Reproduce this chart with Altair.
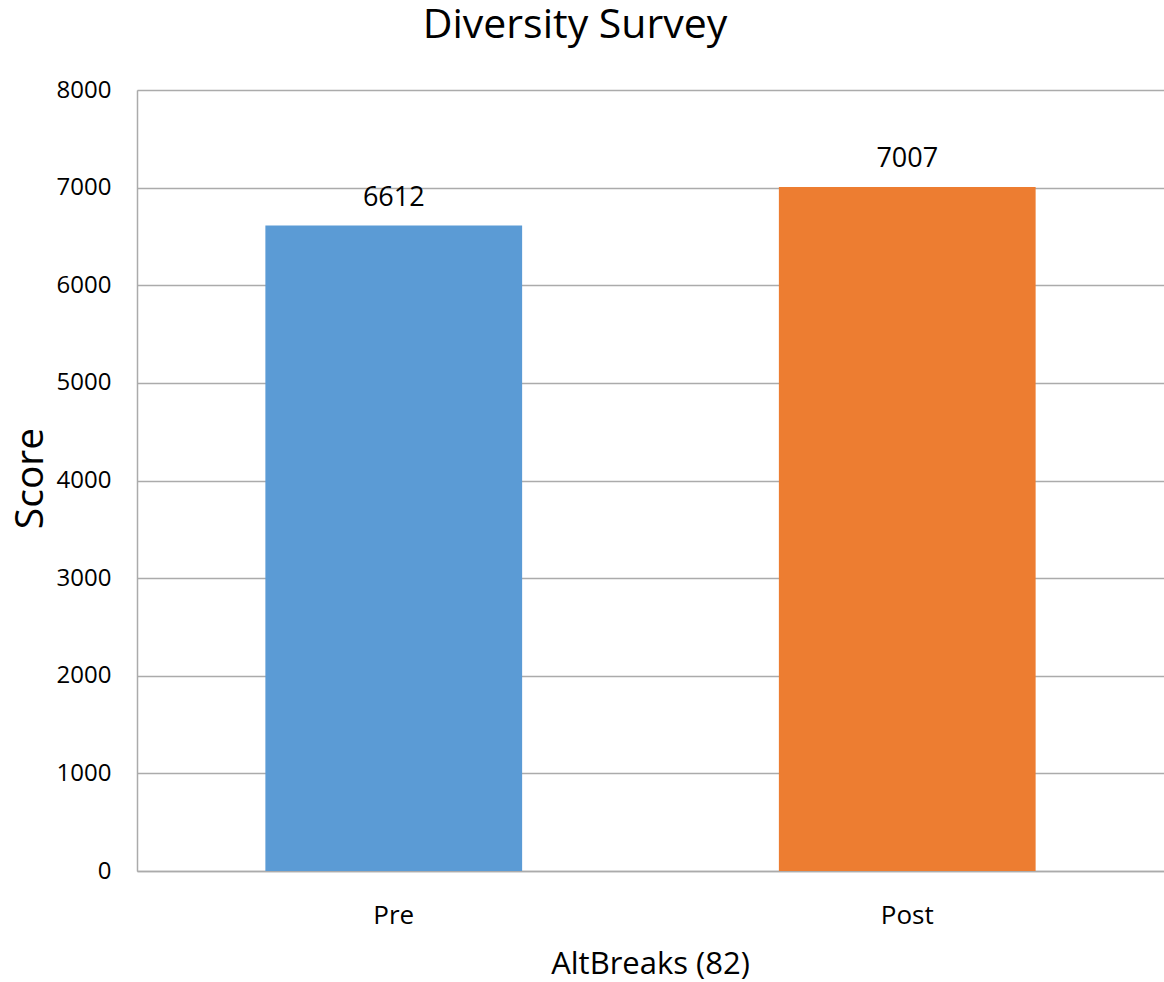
import altair as alt
import pandas as pd

categories = ["Pre", "Post"]
scores = [6612, 7007]
colors = ["#5B9BD5", "#ED7D31"]
chart_title = "Diversity Survey"

df = pd.DataFrame({"group": categories, "score": scores, "color": colors})
title_df = pd.DataFrame({"t": [chart_title]})

FONT = "Open Sans"

x = alt.X(
    "group:N",
    sort=categories,
    scale=alt.Scale(paddingInner=0.5, paddingOuter=0.25),
    axis=alt.Axis(
        title="AltBreaks (82)",
        labelAngle=0,
        labelFontSize=26,
        labelFont=FONT,
        labelColor="#000000",
        labelBaseline="alphabetic",
        labelPadding=52,
        ticks=False,
        domainColor="#ABABAB",
        domainWidth=1.5,
        titleFontSize=31,
        titleFont=FONT,
        titleFontWeight="normal",
        titleColor="#000000",
        titleBaseline="alphabetic",
        titleY=102,
        titleX=513,
    ),
)

y = alt.Y(
    "score:Q",
    scale=alt.Scale(domain=[0, 8000], nice=False),
    axis=alt.Axis(
        title="Score",
        values=[0, 1000, 2000, 3000, 4000, 5000, 6000, 7000, 8000],
        format="d",
        labelFontSize=24,
        labelFont=FONT,
        labelColor="#000000",
        labelPadding=26,
        ticks=False,
        grid=True,
        gridColor="#ABABAB",
        gridWidth=1.5,
        domainColor="#ABABAB",
        domainWidth=1.5,
        titleFontSize=39,
        titleFont=FONT,
        titleFontWeight="normal",
        titleColor="#000000",
        titleBaseline="alphabetic",
        titleAngle=-90,
        titleX=-95,
        titleY=388,
    ),
)

bars = alt.Chart(df).mark_bar().encode(
    x=x,
    y=y,
    color=alt.Color("color:N", scale=None),
)

labels = alt.Chart(df).mark_text(
    baseline="alphabetic", dy=-20, fontSize=27, font=FONT, color="#000000"
).encode(
    x=alt.X("group:N", sort=categories),
    y="score:Q",
    text=alt.Text("score:Q", format="d"),
)

title_mark = alt.Chart(title_df).mark_text(
    baseline="alphabetic", align="center", fontSize=41, font=FONT, color="#000000"
).encode(
    x=alt.value(438),
    y=alt.value(-52),
    text="t:N",
)

chart = (
    alt.layer(bars, labels, title_mark)
    .properties(
        width=1027,
        height=781,
        autosize=alt.AutoSizeParams(type="none"),
        padding={"left": 137, "top": 90, "right": 0, "bottom": 111},
    )
    .configure_view(stroke=None)
    .configure(background="#FFFFFF")
)

chart.save("out.html", embed_options={"renderer": "svg", "actions": False})
